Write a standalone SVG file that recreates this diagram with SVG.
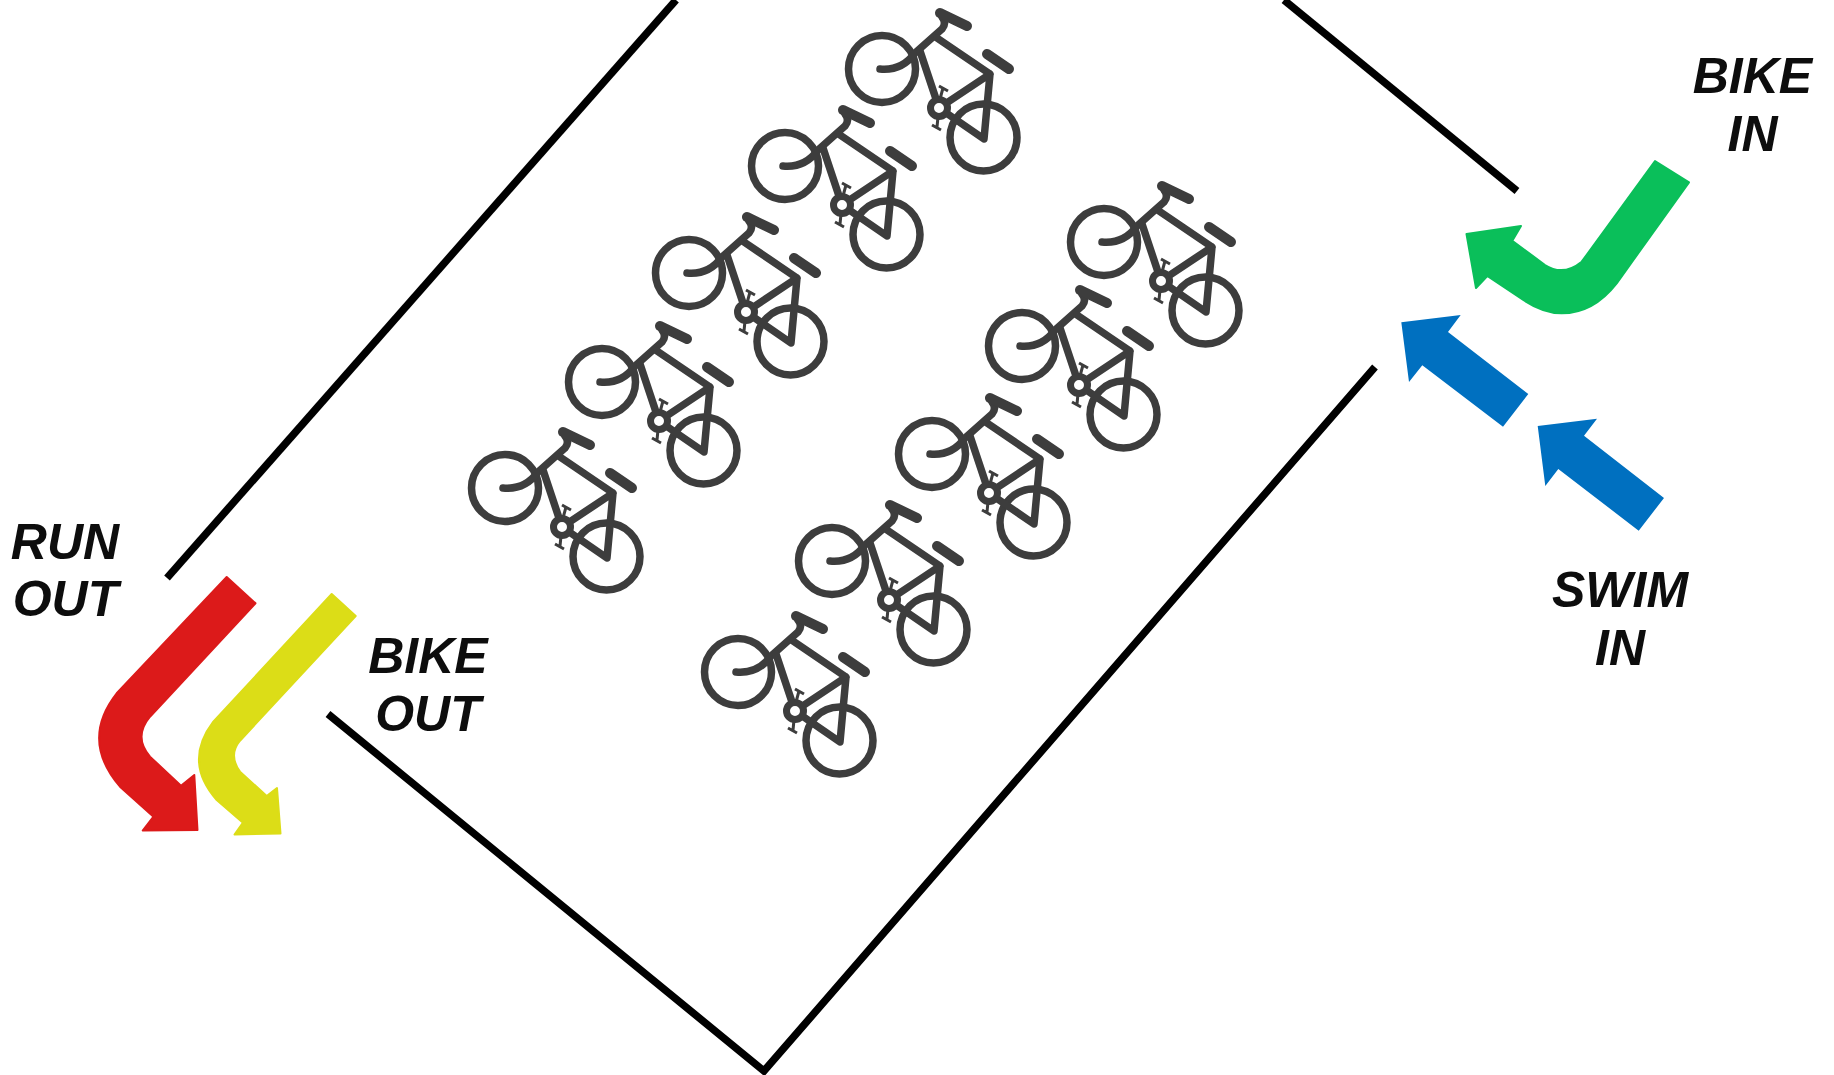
<svg xmlns="http://www.w3.org/2000/svg" width="1834" height="1075" viewBox="0 0 1834 1075">
<style>
.wall{fill:none;stroke:#000;stroke-width:7.5;stroke-linecap:butt}
.lbl{font-family:"Liberation Sans",Arial,sans-serif;font-weight:700;font-style:italic;font-size:50px;fill:#0d0d0d;text-anchor:middle}
.arrow{stroke-width:2;stroke-linejoin:round}
.b{fill:none;stroke:#3d3d3d;stroke-linecap:round;stroke-linejoin:round;stroke-width:7.5}
.h{fill:none;stroke:#3d3d3d;stroke-linecap:round;stroke-width:10}
.t{fill:none;stroke:#3d3d3d;stroke-linecap:butt;stroke-width:3}
</style>
<defs>
<g id="bike">
<circle class="b" cx="55" cy="78" r="33.5"/>
<circle class="b" cx="156.5" cy="146.5" r="33.5"/>
<path class="b" d="M53 78Q75 80 88 62L115 38Q120 32 115 26"/>
<path class="h" d="M113 22L140 35"/>
<path class="h" d="M160 63L182 78"/>
<path class="b" d="M110 47L163 83L157 148L112 117L163 83M93 60L112 117"/>
<circle cx="112" cy="117" r="8.5" fill="#fff" stroke="#3d3d3d" stroke-width="7"/>
<path class="t" d="M113 108L116 97M112 95L121 100M111 126L110 136M105 134L114 139"/>
</g>
</defs>
<rect width="1834" height="1075" fill="#fff"/>
<g id="connectors">
<path class="wall" d="M167 578L676 0"/>
<path class="wall" d="M1284 0L1517 191"/>
<path class="wall" d="M1375 367L764 1071L328 714"/>
</g>
<g id="bikes">
<use id="bike-1" href="#bike" x="450" y="410"/>
<use id="bike-2" href="#bike" x="547" y="304"/>
<use id="bike-3" href="#bike" x="634" y="195"/>
<use id="bike-4" href="#bike" x="730" y="88"/>
<use id="bike-5" href="#bike" x="827" y="-9"/>
<use id="bike-6" href="#bike" x="683" y="594"/>
<use id="bike-7" href="#bike" x="777" y="483"/>
<use id="bike-8" href="#bike" x="877" y="376"/>
<use id="bike-9" href="#bike" x="967" y="268"/>
<use id="bike-10" href="#bike" x="1049" y="164"/>
</g>
<g id="run-out">
<path class="arrow" fill="#dc1a1a" stroke="#dc1a1a" d="M226.7 577L255.5 603.3L150 716.7Q133 737 150 756.7L181 785.7L194.3 775L197.5 830L142.7 830.5L153.5 816.7L120 786.7Q80 740 116.7 693.3Z"/>
<text class="lbl" x="65" y="559">RUN</text>
<text class="lbl" x="65.5" y="616">OUT</text>
</g>
<g id="bike-out">
<path class="arrow" fill="#dcdd17" stroke="#dcdd17" d="M331.7 594L355.7 616L240 740.7Q228 755 240 771.7L266.7 796L277 788L280.5 833.5L234.5 834.5L243 822.7L216.7 800Q183 761.7 213.3 721.7Z"/>
<text class="lbl" x="428" y="673">BIKE</text>
<text class="lbl" x="428" y="731">OUT</text>
</g>
<g id="bike-in">
<path class="arrow" fill="#0abf5a" stroke="#0abf5a" d="M1655 161L1689 182.3L1616.7 283.3Q1593.3 313.3 1561.7 313.3Q1543.3 313.3 1523.3 300L1487.3 276L1476 288L1466.5 234L1521 226L1512.3 240.7L1545 265Q1563.3 276.7 1581.7 261.7Z"/>
<text class="lbl" x="1752.5" y="93">BIKE</text>
<text class="lbl" x="1752.5" y="151">IN</text>
</g>
<g id="swim-in">
<path fill="#0070c0" d="M1401.3 322.3L1460.7 315L1448 332L1528.3 394L1503 426.7L1422.3 365.3L1409 382Z"/>
<path fill="#0070c0" d="M1537.7 426L1597 418.7L1584 435.7L1664 498L1638.7 530.7L1558.3 469L1545.3 486Z"/>
<text class="lbl" x="1620" y="607">SWIM</text>
<text class="lbl" x="1620" y="665">IN</text>
</g>
</svg>
